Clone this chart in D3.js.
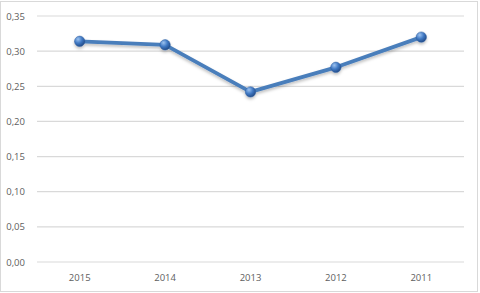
<!DOCTYPE html>
<html>
<head>
<meta charset="utf-8">
<script src="https://cdn.jsdelivr.net/npm/d3@7"></script>
<style>
    body { margin: 0; background: #fff; }
    svg { display: block; }
    .axis text { font-family: 'Open Sans', sans-serif; font-size: 9.5px; fill: #606060; }
</style>
</head>
<body>
<svg id="chart" width="480" height="293"></svg>
<script>
/**
 * Data.
 */
const years = ['2015', '2014', '2013', '2012', '2011'];
const values = [0.314, 0.309, 0.242, 0.277, 0.320];
const yTicks = [0, 0.05, 0.10, 0.15, 0.20, 0.25, 0.30, 0.35];

/**
 * Visual configs.
 */
const visWidth = 480, visHeight = 293,
    margin = { top: 16, right: 16, bottom: 31, left: 37 },
    width = visWidth - margin.left - margin.right,
    height = visHeight - margin.top - margin.bottom;

const svg = d3.select('#chart');

// Chart area border
svg.append('rect')
    .attr('x', 0.5).attr('y', 1.5)
    .attr('width', visWidth - 3).attr('height', visHeight - 3)
    .attr('fill', 'none')
    .attr('stroke', '#d9d9d9');

const defs = svg.append('defs');
const grad = defs.append('radialGradient')
    .attr('id', 'marker-grad')
    .attr('cx', '35%').attr('cy', '30%').attr('r', '70%');
grad.append('stop').attr('offset', '0%').attr('stop-color', '#9cc2ef');
grad.append('stop').attr('offset', '55%').attr('stop-color', '#3f78c3');
grad.append('stop').attr('offset', '100%').attr('stop-color', '#254f8c');

const shadow = defs.append('filter').attr('id', 'shadow')
    .attr('x', '-20%').attr('y', '-20%').attr('width', '140%').attr('height', '160%');
shadow.append('feDropShadow')
    .attr('dx', 0).attr('dy', 2).attr('stdDeviation', 1.5)
    .attr('flood-color', '#000').attr('flood-opacity', 0.25);

const g = svg.append('g').attr('transform', 'translate(' + margin.left + ',' + margin.top + ')');

/**
 * D3.
 */
const xScale = d3.scaleBand().domain(years).range([0, width]);
const yScale = d3.scaleLinear().domain([0, 0.35]).range([height, 0]);
const fmt = d => d3.format('.2f')(d).replace('.', ',');

// Gridlines
g.append('g').attr('class', 'grid')
    .selectAll('line')
    .data(yTicks)
    .join('line')
    .attr('x1', 0).attr('x2', width)
    .attr('y1', d => yScale(d)).attr('y2', d => yScale(d))
    .attr('stroke', '#d9d9d9')
    .attr('stroke-width', 1.2);

// Y axis labels
const yAxis = d3.axisLeft(yScale).tickValues(yTicks).tickFormat(fmt).tickSize(0).tickPadding(12);
g.append('g').attr('class', 'axis').call(yAxis)
    .call(s => s.select('.domain').remove());

// X axis labels
const xAxis = d3.axisBottom(xScale).tickSize(0).tickPadding(12);
g.append('g').attr('class', 'axis')
    .attr('transform', 'translate(0,' + height + ')')
    .call(xAxis)
    .call(s => s.select('.domain').remove());

// Line
const line = d3.line()
    .x((d, i) => xScale(years[i]) + xScale.bandwidth() / 2)
    .y(d => yScale(d));

const series = g.append('g').attr('filter', 'url(#shadow)');
series.append('path')
    .datum(values)
    .attr('d', line)
    .attr('fill', 'none')
    .attr('stroke', '#4a7ebb')
    .attr('stroke-width', 3.8)
    .attr('stroke-linejoin', 'round');

series.selectAll('circle')
    .data(values)
    .join('circle')
    .attr('cx', (d, i) => xScale(years[i]) + xScale.bandwidth() / 2)
    .attr('cy', d => yScale(d))
    .attr('r', 5.2)
    .attr('fill', 'url(#marker-grad)')
    .attr('stroke', '#2c5d9e')
    .attr('stroke-width', 0.5);
</script>
</body>
</html>
